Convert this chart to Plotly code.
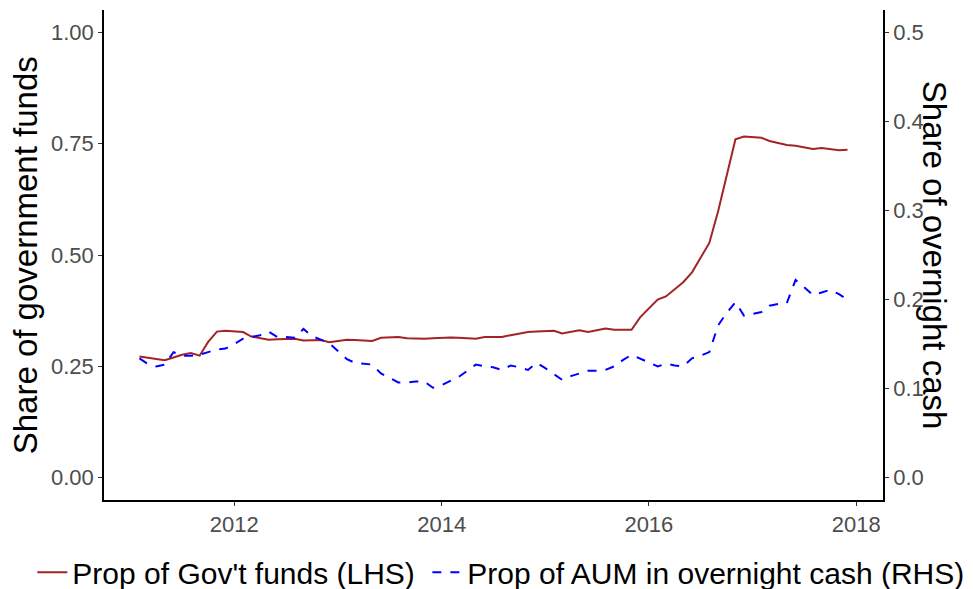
import pandas as pd
import plotly.graph_objects as go

# Monthly observations, Feb 2011 - Dec 2017
months = pd.date_range("2011-02-01", "2017-12-01", freq="MS")

gov_share = [
    0.272, 0.269, 0.266, 0.264, 0.270, 0.276, 0.280, 0.274, 0.305, 0.328, 0.330,
    0.328, 0.327, 0.317, 0.313, 0.310, 0.311, 0.311, 0.312, 0.308, 0.309, 0.309, 0.304,
    0.307, 0.310, 0.309, 0.308, 0.307, 0.314, 0.315, 0.316, 0.313, 0.312, 0.312, 0.313,
    0.314, 0.315, 0.314, 0.313, 0.312, 0.316, 0.316, 0.316, 0.320, 0.324, 0.327, 0.328,
    0.329, 0.330, 0.324, 0.327, 0.331, 0.327, 0.331, 0.335, 0.332, 0.332, 0.332, 0.360,
    0.381, 0.400, 0.407, 0.424, 0.439, 0.461, 0.494, 0.527, 0.598, 0.678, 0.760, 0.766,
    0.765, 0.763, 0.756, 0.751, 0.747, 0.745, 0.742, 0.738, 0.740, 0.737, 0.735, 0.736,
]

overnight_share = [
    0.134, 0.128, 0.125, 0.127, 0.141, 0.137, 0.137, 0.138, 0.141, 0.144, 0.145,
    0.150, 0.156, 0.158, 0.160, 0.164, 0.158, 0.158, 0.157, 0.167, 0.159, 0.155, 0.151,
    0.142, 0.133, 0.129, 0.128, 0.127, 0.117, 0.112, 0.107, 0.107, 0.108, 0.108, 0.101,
    0.104, 0.109, 0.113, 0.120, 0.127, 0.125, 0.124, 0.121, 0.126, 0.124, 0.121, 0.129,
    0.123, 0.116, 0.110, 0.114, 0.117, 0.120, 0.120, 0.121, 0.125, 0.132, 0.138, 0.134,
    0.129, 0.125, 0.128, 0.126, 0.125, 0.134, 0.137, 0.141, 0.171, 0.185, 0.197, 0.182,
    0.184, 0.186, 0.193, 0.195, 0.196, 0.222, 0.214, 0.205, 0.208, 0.211, 0.206, 0.200,
]

year_ticks = ["2012-01-01", "2014-01-01", "2016-01-01", "2018-01-01"]
year_labels = ["2012", "2014", "2016", "2018"]

font_family = "Liberation Sans, Arial, sans-serif"

fig = go.Figure()

fig.add_trace(
    go.Scatter(
        x=months,
        y=gov_share,
        name="Prop of Gov't funds (LHS)",
        mode="lines",
        line=dict(color="#A32326", width=2),
        yaxis="y",
        legend="legend",
        showlegend=True,
    )
)

fig.add_trace(
    go.Scatter(
        x=months,
        y=overnight_share,
        name="Prop of AUM in overnight cash (RHS)",
        mode="lines",
        line=dict(color="#0000FF", width=2, dash="dash"),
        yaxis="y2",
        legend="legend2",
        showlegend=True,
    )
)

tick_font = dict(family=font_family, size=22, color="#4D4D4D")

axis_style = dict(
    showgrid=False,
    zeroline=False,
    showline=True,
    linecolor="black",
    linewidth=1.5,
    ticks="outside",
    ticklen=4,
    tickcolor="#333333",
    tickfont=tick_font,
    automargin=False,
)

legend_style = dict(
    orientation="h",
    xref="container",
    yref="container",
    xanchor="left",
    y=0.042,
    yanchor="middle",
    font=dict(family=font_family, size=30, color="black"),
    itemwidth=30,
    bgcolor="rgba(0,0,0,0)",
    visible=True,
)

fig.update_layout(
    width=973,
    height=589,
    showlegend=True,
    # the page body adds an 8px offset, so the margins are shifted to compensate
    margin=dict(l=96, r=98, t=2, b=97),
    paper_bgcolor="white",
    plot_bgcolor="white",
    font=dict(family=font_family),
    xaxis=dict(
        range=["2010-09-29", "2018-04-05"],
        tickvals=year_ticks,
        ticktext=year_labels,
        **axis_style,
    ),
    yaxis=dict(
        range=[-0.05, 1.05],
        tickvals=[0, 0.25, 0.5, 0.75, 1.0],
        ticktext=["0.00", "0.25", "0.50", "0.75", "1.00"],
        **axis_style,
    ),
    yaxis2=dict(
        range=[-0.025, 0.525],
        tickvals=[0, 0.1, 0.2, 0.3, 0.4, 0.5],
        ticktext=["0.0", "0.1", "0.2", "0.3", "0.4", "0.5"],
        overlaying="y",
        side="right",
        **axis_style,
    ),
    legend=dict(x=0.025, **legend_style),
    legend2=dict(x=0.431, **legend_style),
    annotations=[
        dict(
            text="Share of government funds",
            xref="paper",
            yref="paper",
            x=-0.101,
            y=0.5,
            xanchor="center",
            yanchor="middle",
            textangle=-90,
            showarrow=False,
            font=dict(family=font_family, size=33, color="black"),
        ),
        dict(
            text="Share of overnight cash",
            xref="paper",
            yref="paper",
            x=1.067,
            y=0.5,
            xanchor="center",
            yanchor="middle",
            textangle=90,
            showarrow=False,
            font=dict(family=font_family, size=33, color="black"),
        ),
    ],
)

fig.write_html("out.html")
